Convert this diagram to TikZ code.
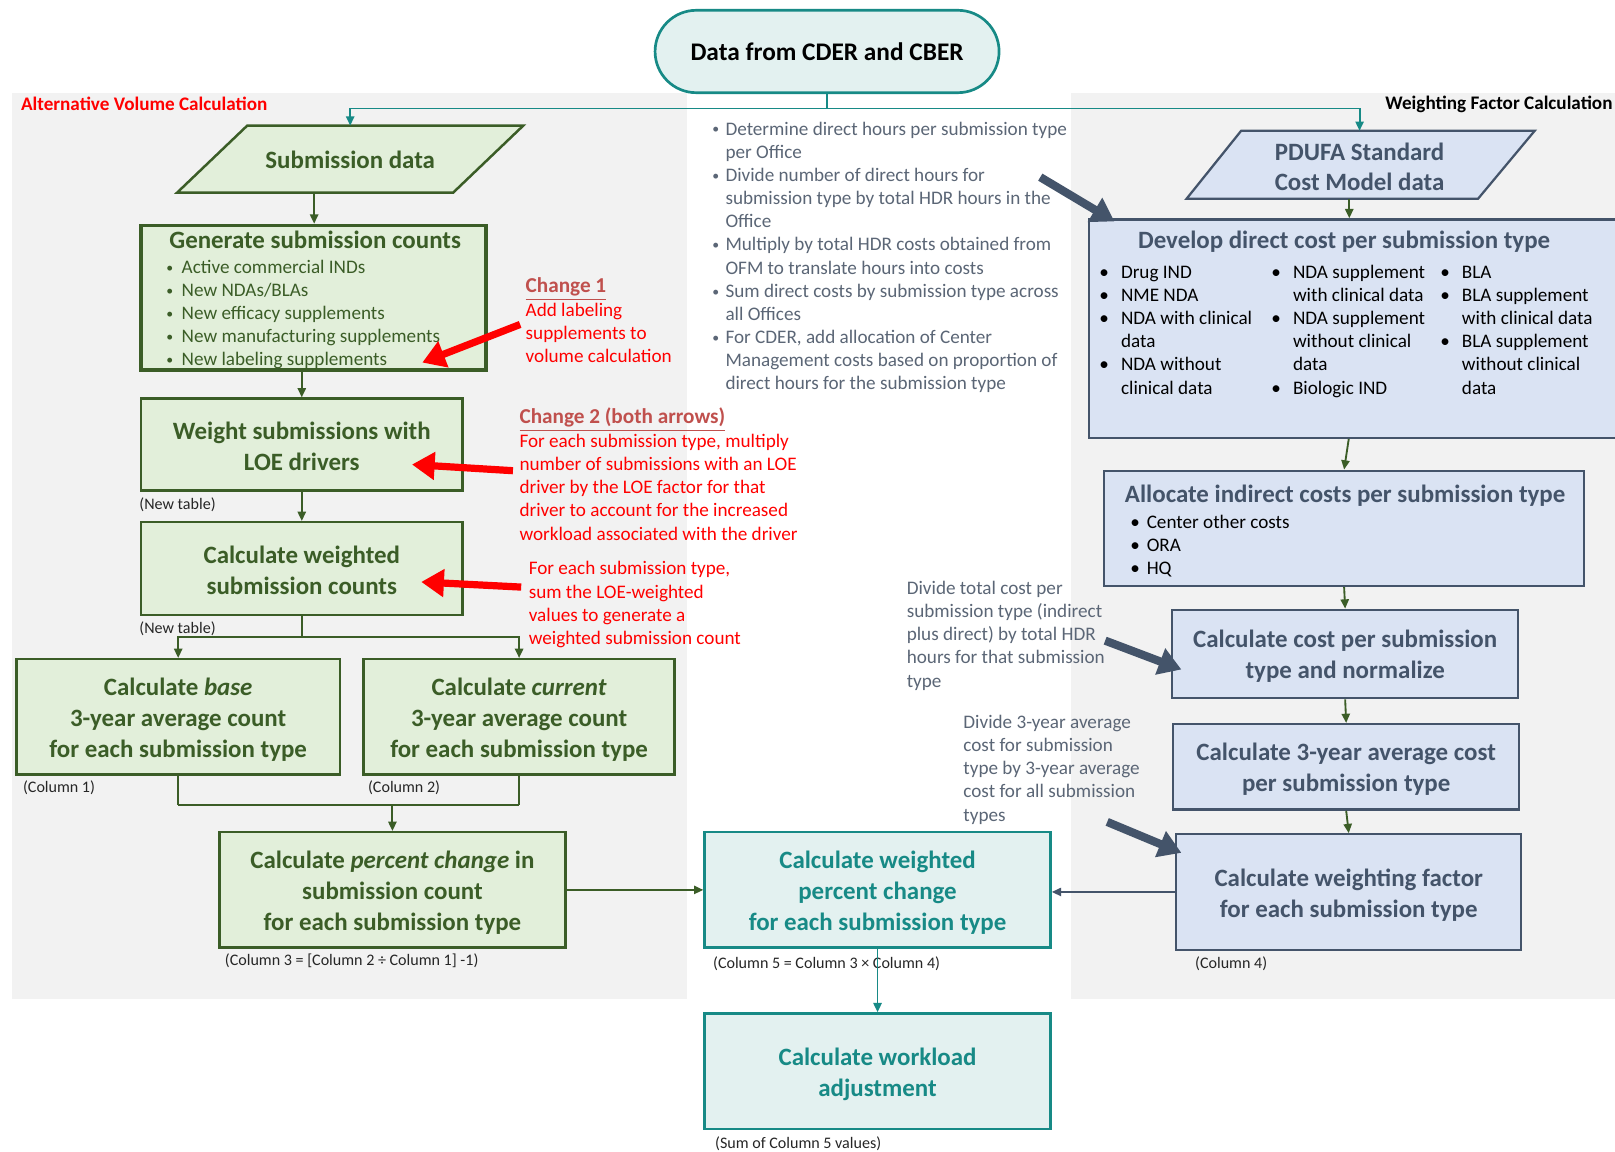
\documentclass[tikz,border=0pt]{standalone}
\usepackage{fontspec}
\usepackage{graphicx}
\setmainfont{Carlito}
\usetikzlibrary{arrows.meta,fit,calc}
\definecolor{gfill}{HTML}{E2EFDA}
\definecolor{gdark}{HTML}{3B5D27}
\definecolor{bfill}{HTML}{DAE3F3}
\definecolor{slate}{HTML}{44546A}
\definecolor{slatetxt}{HTML}{5B6676}
\definecolor{tfill}{HTML}{E3F1F0}
\definecolor{teal2}{HTML}{178A86}
\definecolor{panel}{HTML}{F2F2F2}
\definecolor{chg}{HTML}{C0504D}
\definecolor{redtxt}{HTML}{FF0000}
\definecolor{lbl}{HTML}{262626}
\newcommand{\bsz}{\fontsize{9.3}{11.25}\selectfont}
\newcommand{\tsz}{\fontsize{12.1}{15}\selectfont\bfseries}
\newcommand{\ssz}{\fontsize{7.8}{9}\selectfont}
\newcommand{\tl}[1]{\begin{tabular}{@{}l@{}}#1\end{tabular}}
\newcommand{\bi}[2]{\makebox[#1][l]{\textbullet}#2}
\newcommand{\sbul}{\raisebox{0.12ex}{\scalebox{0.72}{\textbullet}}}
\newcommand{\bs}[2]{\makebox[#1][l]{\hspace{0.6pt}\sbul}#2}
\tikzset{
  gbox/.style={draw=gdark, fill=gfill, line width=1.2pt, inner sep=0pt},
  bbox/.style={draw=slate, fill=bfill, line width=1.1pt, inner sep=0pt},
  tbox/.style={draw=teal2, fill=tfill, line width=1.2pt, inner sep=0pt},
  gtext/.style={inner sep=0pt, text=gdark, font=\tsz, align=center},
  btext/.style={inner sep=0pt, text=slate, font=\tsz, align=center},
  ttext/.style={inner sep=0pt, text=teal2, font=\tsz, align=center},
  txt/.style={inner sep=0pt, font=\bsz, anchor=north west},
  small/.style={inner sep=0pt, font=\ssz, text=lbl, anchor=west},
  garrow/.style={draw=gdark, line width=0.9pt, -{Triangle[length=4.5pt,width=4pt]}},
  gline/.style={draw=gdark, line width=0.9pt},
  tarrow/.style={draw=teal2, line width=0.9pt, -{Triangle[length=4.5pt,width=4pt]}},
  tline/.style={draw=teal2, line width=0.9pt},
  sarrow/.style={draw=slate, line width=0.8pt, -{Triangle[length=4.5pt,width=4pt]}},
  fatslate/.style={draw=slate, line width=4pt, -{Triangle[length=11pt,width=13pt]}},
  fatred/.style={draw=redtxt, line width=3.5pt, -{Triangle[length=11pt,width=13pt]}},
}
\begin{document}
\begin{tikzpicture}[x=0.5pt,y=-0.5pt]
\useasboundingbox (0,0) rectangle (1568,1118);
\fill[white] (0,0) rectangle (1568,1118);
\fill[panel] (12,90) rectangle (667,970);
\fill[panel] (1040,90) rectangle (1568,970);

% panel titles
\node[inner sep=0pt, anchor=west, font=\fontsize{9.3}{11}\selectfont\bfseries, text=redtxt] (ttl1) at (20,101) {Alternative Volume Calculation};
\node[inner sep=0pt, anchor=east, font=\fontsize{9.3}{11}\selectfont\bfseries, text=black] (ttl2) at (1566,101) {Weighting Factor Calculation};

% top oval
\node[draw=teal2, fill=tfill, line width=1.3pt, rounded corners=20pt, fit={(636,10) (970,90)}, inner sep=0pt] (ov) {};
\node[inner sep=0pt, font=\fontsize{12.3}{15}\selectfont\bfseries] (ovT) at (ov.center) {Data from CDER and CBER};

% parallelograms
\draw[draw=gdark, fill=gfill, line width=1.2pt] (240,122) -- (508,122) -- (440,187) -- (172,187) -- cycle;
\node[gtext] (sd) at (340,155) {Submission data};
\coordinate (sdtop) at (340,122);
\coordinate (sdbot) at (305,187);

\draw[draw=slate, fill=bfill, line width=1.1pt] (1205,127) -- (1490,127) -- (1435,193) -- (1152,193) -- cycle;
\node[btext] (pd) at (1320,162) {PDUFA Standard\\Cost Model data};
\coordinate (pdtop) at (1320,127);
\coordinate (pdbot) at (1310,193);

% left column boxes
\node[gbox, line width=1.8pt, fit={(137,219) (472,359)}] (gen) {};
\node[gtext] (gentitle) at (306,233) {Generate submission counts};
\node[txt, text=gdark] (genlist) at (160,249) {\tl{\bs{8pt}{Active commercial INDs}\\ \bs{8pt}{New NDAs/BLAs}\\ \bs{8pt}{New efficacy supplements}\\ \bs{8pt}{New manufacturing supplements}\\ \bs{8pt}{New labeling supplements}}};

\node[gbox, fit={(137,387) (449,476)}] (wsub) {};
\node[gtext] (wsubT) at ([yshift=-1pt]wsub.center) {Weight submissions with\\LOE drivers};
\node[gbox, fit={(137,507) (449,597)}] (cws) {};
\node[gtext] (cwsT) at ([yshift=-1pt]cws.center) {Calculate weighted\\submission counts};
\node[gbox, fit={(16,640) (330,752)}] (base) {};
\node[gtext] (baseT) at ([yshift=-1.5pt]base.center) {Calculate \textit{base}\\3-year average count\\for each submission type};
\node[gbox, fit={(353,640) (655,752)}] (cur) {};
\node[gtext] (curT) at ([yshift=-1.5pt]cur.center) {Calculate \textit{current}\\3-year average count\\for each submission type};
\node[gbox, fit={(213,808) (549,920)}] (pct) {};
\node[gtext] (pctT) at ([yshift=-1.5pt]pct.center) {Calculate \textit{percent change} in\\submission count\\for each submission type};

% teal boxes
\node[tbox, fit={(684,808) (1020,920)}] (wpc) {};
\node[ttext] (wpcT) at ([yshift=-1.5pt]wpc.center) {Calculate weighted\\percent change\\for each submission type};
\node[tbox, fit={(684,984) (1020,1096)}] (wla) {};
\node[ttext] (wlaT) at ([yshift=-1.5pt]wla.center) {Calculate workload\\adjustment};

% right column boxes
\node[bbox, fit={(1057,213) (1576,425)}] (dev) {};
\node[btext] (devtitle) at (1305,235) {Develop direct cost per submission type};
\node[txt, text=black] (devc1) at (1067,254) {\tl{\bi{10.5pt}{Drug IND}\\ \bi{10.5pt}{NME NDA}\\ \bi{10.5pt}{NDA with clinical}\\ \hspace*{10.5pt}data\\ \bi{10.5pt}{NDA without}\\ \hspace*{10.5pt}clinical data}};
\node[txt, text=black] (devc2) at (1234,254) {\tl{\bi{10.5pt}{NDA supplement}\\ \hspace*{10.5pt}with clinical data\\ \bi{10.5pt}{NDA supplement}\\ \hspace*{10.5pt}without clinical\\ \hspace*{10.5pt}data\\ \bi{10.5pt}{Biologic IND}}};
\node[txt, text=black] (devc3) at (1398,254) {\tl{\bi{10.5pt}{BLA}\\ \bi{10.5pt}{BLA supplement}\\ \hspace*{10.5pt}with clinical data\\ \bi{10.5pt}{BLA supplement}\\ \hspace*{10.5pt}without clinical\\ \hspace*{10.5pt}data}};

\node[bbox, fit={(1072,457) (1538,569)}] (alloc) {};
\node[btext] (alloctitle) at (1306,481) {Allocate indirect costs per submission type};
\node[txt, text=black] (alloclist) at (1097,497) {\tl{\bi{8pt}{Center other costs}\\ \bi{8pt}{ORA}\\ \bi{8pt}{HQ}}};

\node[bbox, fit={(1138,592) (1474,678)}] (cps) {};
\node[btext] (cpsT) at ([yshift=-1pt]cps.center) {Calculate cost per submission\\type and normalize};
\node[bbox, fit={(1139,703) (1475,786)}] (avg) {};
\node[btext] (avgT) at ([yshift=-1pt]avg.center) {Calculate 3-year average cost\\per submission type};
\node[bbox, fit={(1142,810) (1477,922)}] (wf) {};
\node[btext] (wfT) at ([yshift=-1.5pt]wf.center) {Calculate weighting factor\\for each submission type};

% middle bullet text
\node[txt, text=slatetxt] (mid) at (690,115) {\tl{\bs{7pt}{Determine direct hours per submission type}\\ \hspace*{7pt}per Office\\ \bs{7pt}{Divide number of direct hours for}\\ \hspace*{7pt}submission type by total HDR hours in the\\ \hspace*{7pt}Office\\ \bs{7pt}{Multiply by total HDR costs obtained from}\\ \hspace*{7pt}OFM to translate hours into costs\\ \bs{7pt}{Sum direct costs by submission type across}\\ \hspace*{7pt}all Offices\\ \bs{7pt}{For CDER, add allocation of Center}\\ \hspace*{7pt}Management costs based on proportion of\\ \hspace*{7pt}direct hours for the submission type}};

% slate annotations
\node[txt, text=slatetxt] (note1) at (880,561) {\tl{Divide total cost per\\ submission type (indirect\\ plus direct) by total HDR\\ hours for that submission\\ type}};
\node[txt, text=slatetxt] (note2) at (935,691) {\tl{Divide 3-year average\\ cost for submission\\ type by 3-year average\\ cost for all submission\\ types}};

% red annotations
\node[txt, text=redtxt] (chg1) at (510,268) {\tl{\textcolor{chg}{\fontsize{10.3}{11.25}\selectfont\bfseries\underline{Change 1}}\\ Add labeling\\ supplements to\\ volume calculation}};
\node[txt, text=redtxt] (chg2) at (504,395) {\tl{\textcolor{chg}{\fontsize{10.3}{11.25}\selectfont\bfseries\underline{Change 2 (both arrows)}}\\ For each submission type, multiply\\ number of submissions with an LOE\\ driver by the LOE factor for that\\ driver to account for the increased\\ workload associated with the driver}};
\node[txt, text=redtxt] (chg3) at (513,542) {\tl{For each submission type,\\ sum the LOE-weighted\\ values to generate a\\ weighted submission count}};

% small labels
\node[small] (lb1) at (135,490) {(New table)};
\node[small] (lb2) at (135,610) {(New table)};
\node[small] (lb3) at (22,765) {(Column 1)};
\node[small] (lb4) at (357,765) {(Column 2)};
\node[small] (lb5) at (218,933) {(Column 3 = [Column 2 ÷ Column 1] -1)};
\node[small] (lb6) at (692,936) {(Column 5 = Column 3 × Column 4)};
\node[small] (lb7) at (1160,936) {(Column 4)};
\node[small] (lb8) at (694,1110) {(Sum of Column 5 values)};

% connectors from oval
\draw[tline] (ov.south) -- ++(0,14) coordinate (split);
\draw[tarrow] (split) -| (sdtop);
\draw[tarrow] (split) -| (pdtop);

% left flow
\draw[garrow] (sdbot) -- (sdbot |- gen.north);
\draw[garrow] (wsub.north |- gen.south) -- (wsub.north);
\draw[garrow] (wsub.south) -- (cws.north);
\draw[gline] (cws.south) -- ++(0,20) coordinate (fork);
\draw[garrow] (fork) -| (base.north);
\draw[garrow] (fork) -| (cur.north);
\draw[gline] (base.south) -- ++(0,28) coordinate (jn1);
\draw[gline] (cur.south) -- ++(0,28) coordinate (jn2);
\draw[gline] (jn1) -- (jn2);
\draw[garrow] (pct.north |- jn1) -- (pct.north);
\draw[garrow] (pct.east) -- (wpc.west);
\draw[tarrow] (wpc.south) -- (wla.north);

% right flow
\draw[garrow] (pdbot) -- (pdbot |- dev.north);
\draw[garrow] ([xshift=-3.5pt]dev.south) -- (alloc.north);
\draw[garrow] (alloc.south) -- (cps.north);
\draw[garrow] (cps.south) -- (avg.north);
\draw[garrow] (avg.south) -- (wf.north);
\draw[sarrow] (wf.west) -- (wf.west -| wpc.east);

% fat annotation arrows
\coordinate (fs1a) at (1010,172); \coordinate (fs1b) at (1082,215);
\coordinate (fs2a) at (1073,622); \coordinate (fs2b) at (1147,650);
\coordinate (fs3a) at (1075,798); \coordinate (fs3b) at (1147,828);
\draw[fatslate] (fs1a) -- (fs1b);
\draw[fatslate] (fs2a) -- (fs2b);
\draw[fatslate] (fs3a) -- (fs3b);
\coordinate (fr1a) at (505,315); \coordinate (fr1b) at (410,352);
\coordinate (fr2a) at (498,457); \coordinate (fr2b) at (400,451);
\coordinate (fr3a) at (506,570); \coordinate (fr3b) at (409,565);
\draw[fatred] (fr1a) -- (fr1b);
\draw[fatred] (fr2a) -- (fr2b);
\draw[fatred] (fr3a) -- (fr3b);
\end{tikzpicture}
\end{document}
